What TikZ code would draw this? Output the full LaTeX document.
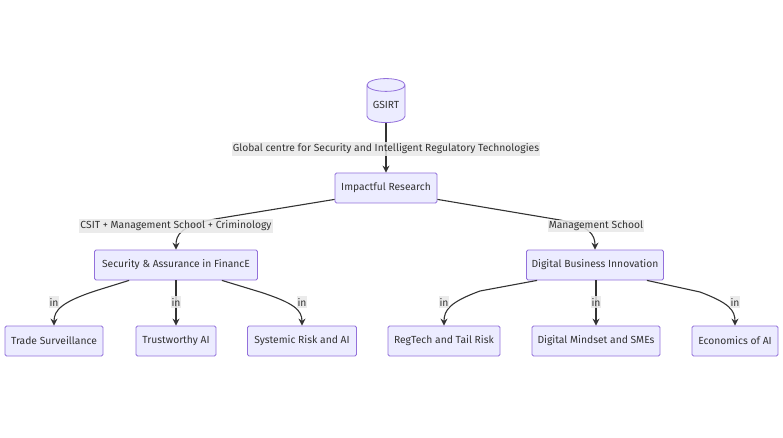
\documentclass[tikz,border=0pt]{standalone}
\usepackage{fontspec}
\setmainfont{Fira Sans}
\usetikzlibrary{shapes.geometric,arrows.meta}
\definecolor{nodefill}{HTML}{ECECFF}
\definecolor{nodeborder}{HTML}{9370DB}
\definecolor{edgecol}{HTML}{333333}
\definecolor{labelbg}{HTML}{E8E8E8}
\begin{document}
\begin{tikzpicture}[x=1pt,y=-1pt,
  box/.style={draw=nodeborder, fill=nodefill, rounded corners=1.5pt, line width=0.8pt,
    text=edgecol, font=\fontsize{10.3}{12}\selectfont, minimum height=30pt, inner sep=2pt},
  lbl/.style={fill=labelbg, fill opacity=0.85, text opacity=1, text=edgecol,
    font=\fontsize{10.3}{12}\selectfont, inner xsep=1pt, inner ysep=1.5pt},
  edge/.style={draw=edgecol, line width=1.1pt, -{Stealth[length=7pt,width=7pt]}}]
\useasboundingbox (0,0) rectangle (783,438);
% nodes
\node[cylinder, shape border rotate=90, aspect=0.45, draw=nodeborder, fill=nodefill,
  line width=0.8pt, minimum width=38pt, minimum height=44pt, text=edgecol,
  font=\fontsize{10.3}{12}\selectfont, inner sep=1pt] (gs) at (386,105) {GSIRT};
\node[box, minimum width=102pt] (ir) at (386,188) {Impactful Research};
\node[box, minimum width=163pt] (saf) at (176,265) {Security \& Assurance in FinancE};
\node[box, minimum width=137pt] (dbi) at (595,265) {Digital Business Innovation};
\node[box, minimum width=98pt] (ts) at (54,341) {Trade Surveillance};
\node[box, minimum width=80pt] (tai) at (176,341) {Trustworthy AI};
\node[box, minimum width=109pt] (sr) at (302,341) {Systemic Risk and AI};
\node[box, minimum width=112pt] (rt) at (444,341) {RegTech and Tail Risk};
\node[box, minimum width=128pt] (dm) at (596,341) {Digital Mindset and SMEs};
\node[box, minimum width=86pt] (ea) at (735,341) {Economics of AI};
% edges
\draw[edge] (gs.south) -- (ir.north);
\draw[edge] ([yshift=4pt]ir.south west) -- (215,219) .. controls (180,226) and (176,235) .. (saf.north);
\draw[edge] ([yshift=4pt]ir.south east) -- (560,220) .. controls (590,226) and (595,235) .. (dbi.north);
\draw[edge] ([xshift=35pt]saf.south west) -- (95,291) .. controls (62,302) and (54,310) .. (ts.north);
\draw[edge] (saf.south) -- (tai.north);
\draw[edge] ([xshift=-36pt]saf.south east) -- (260,292) .. controls (294,303) and (302,310) .. (sr.north);
\draw[edge] ([xshift=11pt]dbi.south west) -- (480,291) .. controls (450,302) and (444,310) .. (rt.north);
\draw[edge] ([xshift=1pt]dbi.south) -- (dm.north);
\draw[edge] ([xshift=-17pt]dbi.south east) -- (700,292) .. controls (729,303) and (735,310) .. (ea.north);
% labels
\node[lbl] (l1) at (386,149) {Global centre for Security and Intelligent Regulatory Technologies};
\node[lbl] (l2) at (176,226) {CSIT + Management School + Criminology};
\node[lbl] (l3) at (596,226) {Management School};
\node[lbl] (l4) at (54,302) {in};
\node[lbl] (l5) at (176,302) {in};
\node[lbl] (l6) at (302,302) {in};
\node[lbl] (l7) at (444,302) {in};
\node[lbl] (l8) at (596,302) {in};
\node[lbl] (l9) at (735,302) {in};
\end{tikzpicture}
\end{document}
